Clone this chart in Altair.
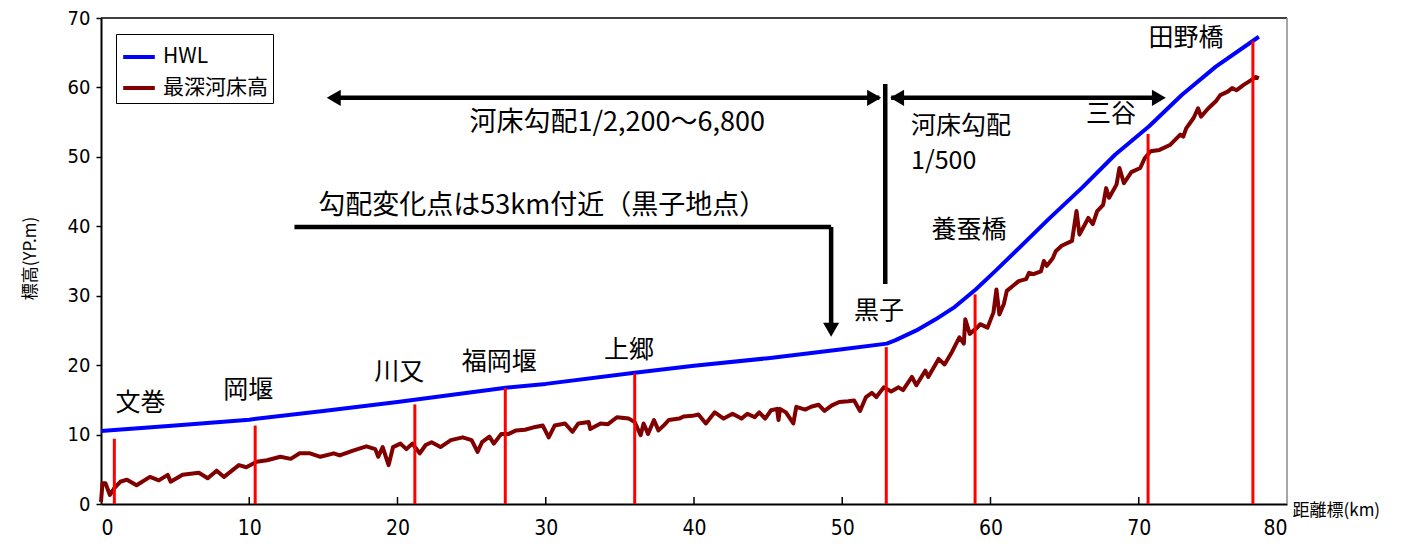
import altair as alt
import pandas as pd

# ---------------- data ----------------
hwl_km = [0, 5, 10, 15, 20, 25, 27.3, 30, 36, 40, 45, 50, 53, 53.6, 55, 56.3, 57.6, 59,
          60.3, 61.7, 63.9, 66.2, 68.4, 70.7, 72.9, 75.2, 78.1]
hwl_val = [10.5, 11.3, 12.15, 13.4, 14.7, 16.1, 16.75, 17.3, 18.9, 19.9, 21.0, 22.3, 23.1, 23.6,
           25.0, 26.6, 28.4, 30.9, 33.5, 36.4, 41.0, 45.6, 50.3, 54.4, 58.9, 63.0, 67.3]

bed_km = [0.0, 0.1, 0.3, 0.6, 0.9, 1.3, 1.75, 2.4, 3.3, 3.9, 4.5, 4.7, 5.5, 6.6, 7.2, 7.8, 8.3,
          9.3, 9.8, 10.5, 11.2, 12.1, 12.8, 13.4, 14.1, 14.8, 15.7, 16.1, 17.0, 17.9, 18.5, 18.7,
          19.0, 19.4, 19.7, 20.2, 20.6, 21.0, 21.5, 21.9, 22.3, 22.9, 23.6, 24.4, 25.0, 25.4, 25.7,
          26.2, 26.5, 27.0, 27.5, 28.0, 28.6, 29.3, 29.8, 30.2, 30.6, 31.3, 31.8, 32.2, 32.9, 33.0,
          33.7, 34.2, 34.8, 35.6, 36.0, 36.4, 36.6, 36.9, 37.3, 37.6, 38.0, 38.3, 39.0, 39.3, 39.9,
          40.3, 40.8, 41.4, 42.0, 42.6, 43.2, 43.6, 44.1, 44.4, 44.8, 45.2, 45.6, 45.7, 45.8, 46.2,
          46.7, 46.9, 47.5, 47.9, 48.4, 48.8, 49.3, 49.8, 50.4, 50.8, 51.2, 51.6, 52.0, 52.3, 52.8,
          53.3, 53.8, 54.1, 54.7, 55.0, 55.6, 55.8, 56.5, 56.9, 57.4, 57.9, 58.2, 58.3, 58.6, 59.1,
          59.3, 59.8, 60.2, 60.4, 60.6, 60.9, 61.1, 61.5, 61.9, 62.4, 62.6, 62.9, 63.4, 63.6, 63.8,
          64.2, 64.4, 64.8, 65.5, 65.8, 66.0, 66.6, 66.9, 67.2, 67.6, 67.8, 68.0, 68.5, 68.7, 69.0,
          69.5, 70.1, 70.4, 70.8, 71.4, 72.1, 72.8, 73.0, 73.2, 73.7, 74.0, 74.2, 74.7, 75.2, 75.5,
          76.0, 76.3, 76.6, 77.1, 77.4, 77.9, 78.1]
bed_val = [0.3, 3.0, 3.0, 1.3, 2.3, 3.2, 3.5, 2.7, 3.9, 3.4, 4.2, 3.2, 4.2, 4.5, 3.7, 4.8, 3.9,
           5.6, 5.3, 6.1, 6.3, 6.8, 6.5, 7.3, 7.3, 6.8, 7.3, 7.0, 7.7, 8.3, 7.9, 6.8,
           8.2, 5.6, 8.2, 8.7, 7.9, 8.7, 7.3, 8.5, 8.9, 8.2, 9.2, 9.6, 9.2, 7.5, 8.9,
           9.7, 8.7, 10.1, 10.1, 10.6, 10.7, 11.1, 11.3, 9.6, 11.3, 11.6, 10.4, 11.6, 11.8, 10.8,
           11.6, 11.5, 12.5, 12.3, 11.8, 9.9, 11.6, 10.1, 12.1, 10.6, 11.4, 12.1, 12.3, 12.6, 12.7,
           12.9, 11.6, 13.2, 12.3, 13.0, 12.3, 13.0, 12.5, 13.2, 12.3, 13.5, 13.7, 12.1, 13.7, 13.2,
           11.6, 14.0, 13.6, 14.0, 14.3, 13.4, 14.2, 14.7, 14.8, 14.9, 13.4, 15.4, 16.0, 15.4, 16.8,
           16.2, 16.8, 16.4, 18.3, 17.1, 19.2, 18.3, 20.9, 20.1, 21.9, 24.0, 23.1, 26.6, 24.5, 25.4,
           25.9, 25.4, 27.6, 30.9, 27.3, 28.8, 30.7, 31.4, 32.1, 32.4, 33.3, 33.1, 33.5, 35.0, 34.3,
           35.4, 36.4, 37.2, 37.9, 42.2, 38.8, 41.2, 40.3, 42.2, 43.1, 45.5, 44.1, 46.0, 48.4, 46.2,
           47.8, 48.4, 49.8, 50.8, 51.0, 51.7, 53.2, 52.9, 54.1, 55.6, 57.0, 55.8, 57.0, 58.0, 58.9,
           59.4, 59.9, 59.6, 60.4, 60.8, 61.5, 61.3]

series_names = ["HWL", "最深河床高"]
series_colors = ["#0000FF", "#800000"]

station_km = [0.9, 10.4, 21.17, 27.27, 36.0, 52.97, 58.96, 70.63, 77.7]
station_top = [9.4, 11.3, 14.35, 16.7, 18.8, 22.6, 30.2, 53.3, 66.7]

place_names = ["文巻", "岡堰", "川又", "福岡堰", "上郷", "黒子", "養蚕橋", "三谷", "田野橋"]
place_x = [2.66, 9.93, 20.11, 26.86, 35.62, 52.48, 58.55, 68.13, 73.18]
place_y = [14.49, 16.36, 19.08, 20.52, 22.24, 27.83, 39.45, 56.24, 67.14]

note_text = ["河床勾配1/2,200～6,800", "勾配変化点は53km付近（黒子地点）"]
note_x = [34.82, 29.76]
note_y = [54.81, 42.9]

note2_text = ["河床勾配", "1/500"]
note2_x = [54.64, 54.64]
note2_y = [54.38, 49.35]

seg_x = [15.5, 53.3, 52.9, 13.05, 49.25]
seg_x2 = [52.5, 71.5, 52.9, 49.25, 49.25]
seg_y = [58.5, 58.5, 31.7, 39.9, 39.9]
seg_y2 = [58.5, 58.5, 60.5, 39.9, 25.5]

head_x = [15.7, 52.15, 53.7, 71.36, 49.25]
head_y = [58.5, 58.5, 58.5, 58.5, 25.1]
head_shape = ["triangle-left", "triangle-right", "triangle-left", "triangle-right", "triangle-down"]

xtick_vals = [10, 20, 30, 40, 50, 60, 70]

JP = "Noto Sans CJK JP"
NUM = "Liberation Sans Narrow, DejaVu Sans Condensed, Roboto Condensed, Noto Sans CJK JP"

# ---------------- tables ----------------
lines_df = pd.concat([
    pd.DataFrame({"km": hwl_km, "elev": hwl_val, "series": series_names[0]}),
    pd.DataFrame({"km": bed_km, "elev": bed_val, "series": series_names[1]}),
], ignore_index=True)
station_df = pd.DataFrame({"km": station_km, "top": station_top, "base": 0})
place_df = pd.DataFrame({"t": place_names, "km": place_x, "elev": place_y})
note_df = pd.DataFrame({"t": note_text, "km": note_x, "elev": note_y})
note2_df = pd.DataFrame({"t": note2_text, "km": note2_x, "elev": note2_y})
seg_df = pd.DataFrame({"x": seg_x, "x2": seg_x2, "y": seg_y, "y2": seg_y2})
head_df = pd.DataFrame({"x": head_x, "y": head_y, "shape": head_shape})
tick_df = pd.DataFrame({"x": xtick_vals, "y": 0, "y2": 1.0})

xs = alt.Scale(domain=[0, 80], nice=False)
ys = alt.Scale(domain=[0, 70], nice=False)

x_axis = alt.Axis(values=list(range(0, 81, 10)), ticks=False, grid=False, title="距離標(km)",
                  labelFont=NUM, labelFontSize=21, labelPadding=13, labelColor="#000",
                  titleFont=JP, titleFontSize=17, titleFontWeight="normal", titleColor="#000",
                  titleX=1191, titleY=6, titleAlign="left", titleBaseline="middle",
                  domainColor="#000", domainWidth=2)
y_axis = alt.Axis(values=list(range(0, 71, 10)), grid=False, title="標高(YP.m)",
                  labelFont=NUM, labelFontSize=20, labelPadding=6, labelColor="#000",
                  tickColor="#000", tickSize=5, tickWidth=1.5,
                  titleFont=JP, titleFontSize=17, titleFontWeight="normal", titleColor="#000",
                  titleX=-71, titleY=240, titleAngle=270, titleAlign="center",
                  titleBaseline="middle", domainColor="#000", domainWidth=2)

lines = alt.Chart(lines_df).mark_line(strokeWidth=4, strokeJoin="round").encode(
    x=alt.X("km:Q", scale=xs, axis=x_axis),
    y=alt.Y("elev:Q", scale=ys, axis=y_axis),
    color=alt.Color("series:N", scale=alt.Scale(domain=series_names, range=series_colors),
                    legend=alt.Legend(title=None, orient="none", legendX=15, legendY=16,
                                      strokeColor="#000", fillColor="#fff", padding=5,
                                      symbolType="stroke", symbolSize=1000, symbolStrokeWidth=4,
                                      rowPadding=3, labelFont=JP, labelFontSize=21,
                                      labelColor="#000", labelOffset=6)),
    detail="series:N",
)

frame_top = alt.Chart(pd.DataFrame({"a": [0]})).mark_rule(color="#000", strokeWidth=1.5).encode(
    x=alt.datum(0, scale=xs), x2=alt.datum(80), y=alt.datum(70, scale=ys))
frame_right = alt.Chart(pd.DataFrame({"a": [0]})).mark_rule(color="#888", strokeWidth=1.5).encode(
    x=alt.datum(80, scale=xs), y=alt.datum(0, scale=ys), y2=alt.datum(70))

ticks = alt.Chart(tick_df).mark_rule(color="#000", strokeWidth=1.5).encode(
    x=alt.X("x:Q", scale=xs), y=alt.Y("y:Q", scale=ys), y2="y2:Q")

stations = alt.Chart(station_df).mark_rule(color="#FF0000", strokeWidth=3).encode(
    x=alt.X("km:Q", scale=xs), y=alt.Y("base:Q", scale=ys), y2="top:Q")

places = alt.Chart(place_df).mark_text(font=JP, fontSize=25, color="#000",
                                       align="center", baseline="middle").encode(
    x=alt.X("km:Q", scale=xs), y=alt.Y("elev:Q", scale=ys), text="t:N")

notes = alt.Chart(note_df).mark_text(font=JP, fontSize=27, color="#000",
                                     align="center", baseline="middle").encode(
    x=alt.X("km:Q", scale=xs), y=alt.Y("elev:Q", scale=ys), text="t:N")

notes2 = alt.Chart(note2_df).mark_text(font=JP, fontSize=25, color="#000",
                                       align="left", baseline="middle").encode(
    x=alt.X("km:Q", scale=xs), y=alt.Y("elev:Q", scale=ys), text="t:N")

segs = alt.Chart(seg_df).mark_rule(color="#000", strokeWidth=4.5).encode(
    x=alt.X("x:Q", scale=xs), x2="x2:Q", y=alt.Y("y:Q", scale=ys), y2="y2:Q")

heads = alt.Chart(head_df).mark_point(filled=True, color="#000", opacity=1, size=260).encode(
    x=alt.X("x:Q", scale=xs), y=alt.Y("y:Q", scale=ys),
    shape=alt.Shape("shape:N", scale=None, legend=None))

chart = alt.layer(lines, stations, frame_top, frame_right, ticks, segs, heads,
                  places, notes, notes2).properties(
    width=1186, height=486, autosize="none",
    padding={"left": 93, "top": 10, "right": 108, "bottom": 34},
    background="#ffffff",
).configure_view(stroke=None)

chart.save("out.html", embed_options={"renderer": "svg", "actions": False})
